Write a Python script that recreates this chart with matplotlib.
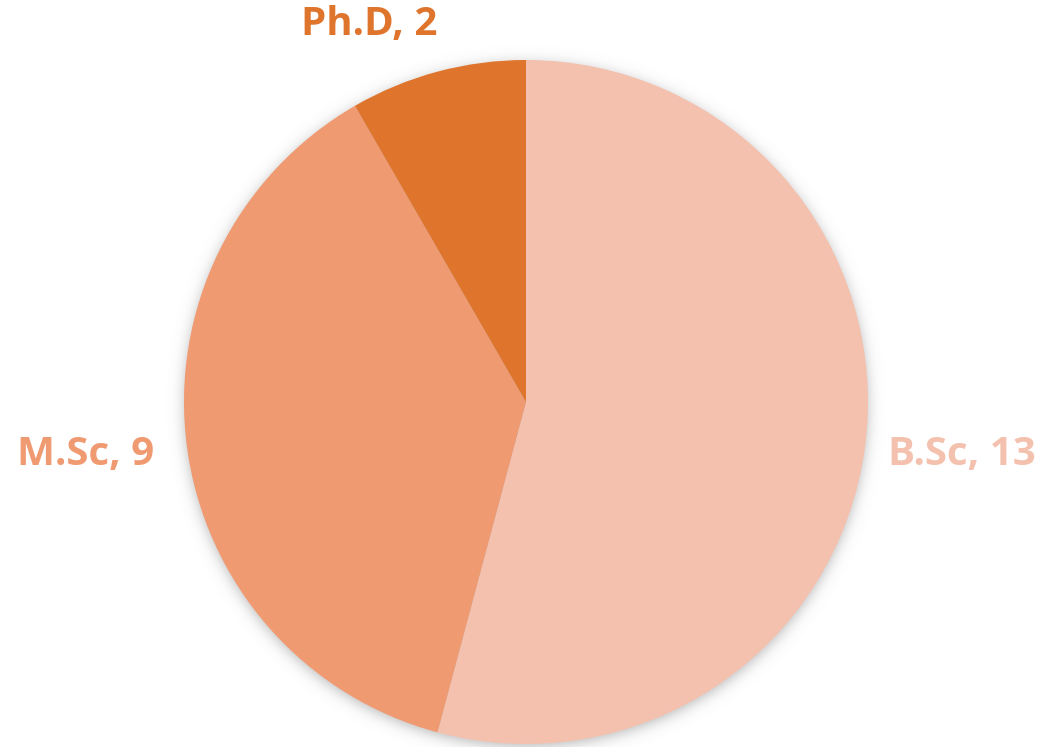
import numpy as np
import matplotlib
matplotlib.use("Agg")
import matplotlib.pyplot as plt

# Degree breakdown
categories = ["B.Sc", "M.Sc", "Ph.D"]
counts = [13, 9, 2]
colors = ["#F4C1AE", "#F09A72", "#DF752D"]

W, H = 1051, 747
fig = plt.figure(figsize=(W / 100, H / 100), dpi=100)
ax = fig.add_axes([0, 0, 1, 1])

cx, cy, r = 526, H - 402, 342

# soft drop shadow behind the pie
yy, xx = np.mgrid[0:H, 0:W]
d = np.hypot(xx + 0.5 - cx, (H - yy - 0.5) - (cy - 3))
alpha = 0.4 / (1 + np.exp((d - r) / 4.0))
shadow = np.zeros((H, W, 4))
shadow[..., :3] = 0.35
shadow[..., 3] = alpha
ax.imshow(shadow, extent=(0, W, 0, H), origin="upper", zorder=0, interpolation="bilinear")

ax.pie(counts, colors=colors, startangle=90, counterclock=False,
       center=(cx, cy), radius=r, frame=True,
       wedgeprops=dict(linewidth=0, zorder=2))
ax.set_xlim(0, W)
ax.set_ylim(0, H)
ax.set_aspect("equal")
ax.axis("off")

label_pos = {"B.Sc": (962, H - 455), "M.Sc": (86, H - 455), "Ph.D": (369, H - 24)}
for cat, val, col in zip(categories, counts, colors):
    x, y = label_pos[cat]
    ax.text(x, y, f"{cat}, {val}", color=col, fontsize=29, fontweight="bold",
            family="Open Sans", ha="center", va="center", zorder=3)

fig.savefig("out.png", dpi=100)
